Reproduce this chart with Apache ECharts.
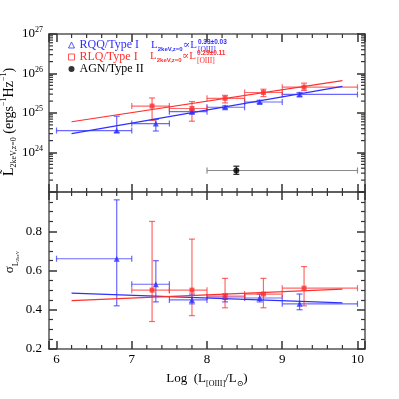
<!DOCTYPE html>
<html><head><meta charset="utf-8">
<script src="https://cdn.jsdelivr.net/npm/echarts@6/dist/echarts.min.js"></script>
<style>html,body{margin:0;padding:0;background:#fff}#c{width:399px;height:399px}</style>
</head><body><div id="c"></div>
<script>
// ---------- data ----------
// RQQ / Type I
const rqqX   = [6.8, 7.32, 7.8, 8.24, 8.7, 9.23];
const rqqXlo = [6.0, 7.0, 7.5, 8.0, 8.5, 9.0];
const rqqXhi = [7.0, 7.5, 8.0, 8.5, 9.0, 10.0];
const rqqL   = [3.6e24, 5.4e24, 1.08e25, 1.4e25, 1.9e25, 2.95e25];
const rqqLlo = [3.2e24, 3.5e24, 9.6e24, 1.28e25, 1.75e25, 2.65e25];
const rqqLhi = [8.3e24, 6.9e24, 1.2e25, 1.52e25, 2.1e25, 3.3e25];
const rqqSig   = [0.66, 0.53, 0.45, 0.465, 0.46, 0.43];
const rqqSigLo = [0.42, 0.44, 0.43, 0.44, 0.44, 0.40];
const rqqSigHi = [0.96, 0.65, 0.48, 0.48, 0.48, 0.48];
// RLQ / Type I
const rlqX   = [7.27, 7.8, 8.24, 8.75, 9.29];
const rlqXlo = [7.0, 7.5, 8.0, 8.5, 9.0];
const rlqXhi = [7.5, 8.0, 8.5, 9.0, 10.0];
const rlqL   = [1.5e25, 1.3e25, 2.35e25, 3.3e25, 4.5e25];
const rlqLlo = [6.5e24, 6.2e24, 1.8e25, 2.6e25, 3.7e25];
const rlqLhi = [2.4e25, 1.95e25, 2.8e25, 4.0e25, 5.7e25];
const rlqSig   = [0.50, 0.50, 0.47, 0.48, 0.51];
const rlqSigLo = [0.34, 0.37, 0.41, 0.41, 0.42];
const rlqSigHi = [0.85, 0.76, 0.56, 0.56, 0.62];
// AGN / Type II
const agnX = [8.39], agnXlo = [8.0], agnXhi = [10.0];
const agnL = [3.5e23], agnLlo = [2.8e23], agnLhi = [4.5e23];
// fit lines
const fitX = [6.2, 9.8];
const rqqFitL = [3.0e24, 4.7e25];
const rlqFitL = [6.0e24, 6.6e25];
const rqqFitSig = [0.485, 0.435];
const rlqFitSig = [0.447, 0.505];
// axis tick labels
const xTickLabels = ['6', '7', '8', '9', '10'];
const xMajor = [6, 7, 8, 9, 10];
const xMinorSteps = [0.2, 0.4, 0.6, 0.8];
const sigTickLabels = ['0.2', '0.4', '0.6', '0.8'];
const logTickExponents = [24, 25, 26, 27];
const logMinorFactors = [2, 3, 4, 5, 6, 7, 8, 9];
const logDecades = [23, 24, 25, 26];

// ---------- style ----------
const BLUE = '#2f2fff', RED = '#ff2f2f', BLACK = '#000';
const BLUE_E = 'rgba(47,47,255,0.72)', RED_E = 'rgba(255,47,47,0.72)', GREY_E = '#8a8a8a';
const FRAME = '#555';
const TICK = '#333';
const SERIF = '"Liberation Serif","DejaVu Serif",serif';

const logMinor = [];
logDecades.forEach(d => logMinorFactors.forEach(f => logMinor.push(f * Math.pow(10, d))));
const xMinor = [];
xMajor.slice(0, -1).forEach(m => xMinorSteps.forEach(s => xMinor.push(m + s)));

const mctx = document.createElement('canvas').getContext('2d');
function tw(font, s) { mctx.font = font; return mctx.measureText(s).width; }

function rows(x, xlo, xhi, y, ylo, yhi) { return x.map((v, i) => [v, xlo[i], xhi[i], y[i], ylo[i], yhi[i]]); }

function errBar(color, vColor) {
  return function (params, api) {
    const x = api.value(0), y = api.value(3);
    const a = api.coord([api.value(1), y]), b = api.coord([api.value(2), y]);
    const c = api.coord([x, api.value(4)]), d = api.coord([x, api.value(5)]);
    const k = 3;
    const st = { stroke: color, lineWidth: 1.2 };
    const sv = { stroke: vColor || color, lineWidth: 1.2 };
    const L = (x1, y1, x2, y2, s) => ({ type: 'line', shape: { x1, y1, x2, y2 }, style: s });
    return { type: 'group', children: [
      L(a[0], a[1], b[0], b[1], st), L(a[0], a[1] - k, a[0], a[1] + k, st), L(b[0], b[1] - k, b[0], b[1] + k, st),
      L(c[0], c[1], d[0], d[1], sv), L(c[0] - k, c[1], c[0] + k, c[1], sv), L(d[0] - k, d[1], d[0] + k, d[1], sv)
    ] };
  };
}

function xMinorSeries(xi, yi, yRef) {
  return { type: 'custom', name: 'xminor' + xi, xAxisIndex: xi, yAxisIndex: yi, silent: true, z: 3,
    data: xMinor.map(v => [v, yRef]), encode: { x: 0, y: 1 },
    renderItem: (params, api) => {
      const cs = params.coordSys; const x = api.coord([api.value(0), yRef])[0];
      const st = { stroke: TICK, lineWidth: 1.2 };
      return { type: 'group', children: [
        { type: 'line', shape: { x1: x, y1: cs.y, x2: x, y2: cs.y + 4 }, style: st },
        { type: 'line', shape: { x1: x, y1: cs.y + cs.height, x2: x, y2: cs.y + cs.height - 4 }, style: st }
      ] };
    } };
}

function mkX(grid, pos, labels) {
  return {
    type: 'value', gridIndex: grid, position: pos, min: 5.9, max: 10.1, splitNumber: 4,
    splitLine: { show: false },
    axisLine: { show: true, onZero: false, lineStyle: { color: FRAME, width: 1.5 } },
    axisTick: { show: true, inside: true, length: 8, lineStyle: { color: TICK, width: 1.5 } },
    minorTick: { show: false },
    axisLabel: labels ? {
      show: true, margin: 4, color: '#000', fontFamily: SERIF, fontSize: 13,
      formatter: v => { const r = Math.round(v); return Math.abs(v - r) < 1e-6 && xTickLabels.includes(String(r)) ? String(r) : ''; }
    } : { show: false }
  };
}

// formula layout (measured so the stacked super/subscripts follow the text)
const FX1 = 151, FX2 = 150;
const mainW = tw('11px "Liberation Serif"', 'L') + tw('bold 6px "Liberation Sans"', '2keV,z=0') + tw('11px "Liberation Serif"', '\u221dL');

function formula(x0, yc, color, expo) {
  return [
    { type: 'text', x: x0, y: yc, style: { text: '{m|L}{s|2keV,z=0}{m|\u221dL}', verticalAlign: 'middle',
      rich: { m: { fontFamily: SERIF, fontSize: 11, fill: color, lineHeight: 14, verticalAlign: 'middle' },
              s: { fontFamily: 'Liberation Sans', fontSize: 6, fontWeight: 'bold', fill: color, lineHeight: 14, verticalAlign: 'bottom' } } } },
    { type: 'text', x: x0 + mainW + 0.5, y: yc - 3, style: { text: expo, fontFamily: 'Liberation Sans', fontSize: 6.5, fontWeight: 'bold', fill: color, verticalAlign: 'middle' } },
    { type: 'text', x: x0 + mainW + 0.5, y: yc + 5, style: { text: '[OIII]', fontFamily: SERIF, fontSize: 7.5, fill: color, verticalAlign: 'middle' } }
  ];
}

const chart = echarts.init(document.getElementById('c'), null, { renderer: 'canvas' });
const option = {
  animation: false,
  backgroundColor: '#fff',
  grid: [
    { left: 49, right: 34, top: 34, height: 158 },
    { left: 49, right: 34, top: 192, height: 157 }
  ],
  xAxis: [
    mkX(0, 'bottom', false),
    mkX(0, 'top', false),
    Object.assign(mkX(1, 'bottom', true), {
      name: '{m|Log  (L}{s|[OIII]}{m|/L}{s|\u2299}{m|)}', nameLocation: 'middle', nameGap: 21,
      nameTextStyle: { rich: {
        m: { fontFamily: SERIF, fontSize: 13, color: '#000', lineHeight: 18, verticalAlign: 'middle' },
        s: { fontFamily: SERIF, fontSize: 8, color: '#000', lineHeight: 18, verticalAlign: 'bottom' }
      } }
    }),
    mkX(1, 'top', false)
  ],
  yAxis: [
    { type: 'log', logBase: 10, gridIndex: 0, position: 'left', min: 1e23, max: 1e27,
      splitLine: { show: false },
      axisLine: { show: true, lineStyle: { color: FRAME, width: 1.5 } },
      axisTick: { show: true, inside: true, length: 8, lineStyle: { color: TICK, width: 1.5 } },
      axisLabel: { show: true, margin: 6,
        formatter: v => { const e = Math.round(Math.log10(v)); return logTickExponents.includes(e) ? '{b|10}{e|' + e + '}' : ''; },
        rich: { b: { fontFamily: SERIF, fontSize: 13, color: '#000', lineHeight: 16, verticalAlign: 'middle' },
                e: { fontFamily: SERIF, fontSize: 8, color: '#000', lineHeight: 16, verticalAlign: 'top' } } } },
    { type: 'log', logBase: 10, gridIndex: 0, position: 'right', min: 1e23, max: 1e27,
      splitLine: { show: false },
      axisLine: { show: true, lineStyle: { color: FRAME, width: 1.5 } },
      axisTick: { show: true, inside: true, length: 8, lineStyle: { color: TICK, width: 1.5 } },
      axisLabel: { show: false } },
    { type: 'value', gridIndex: 1, position: 'left', min: 0.2, max: 1.0, interval: 0.2,
      splitLine: { show: false },
      axisLine: { show: true, lineStyle: { color: FRAME, width: 1.5 } },
      axisTick: { show: true, inside: true, length: 8, lineStyle: { color: TICK, width: 1.5 } },
      minorTick: { show: true, splitNumber: 4, length: 4, lineStyle: { color: TICK, width: 1.2 } },
      axisLabel: { show: true, margin: 7, color: '#000', fontFamily: SERIF, fontSize: 13,
        formatter: v => { const s = v.toFixed(1); return sigTickLabels.includes(s) ? s : ''; } } },
    { type: 'value', gridIndex: 1, position: 'right', min: 0.2, max: 1.0, interval: 0.2,
      splitLine: { show: false },
      axisLine: { show: true, lineStyle: { color: FRAME, width: 1.5 } },
      axisTick: { show: true, inside: true, length: 8, lineStyle: { color: TICK, width: 1.5 } },
      minorTick: { show: true, splitNumber: 4, length: 4, lineStyle: { color: TICK, width: 1.2 } },
      axisLabel: { show: false } }
  ],
  legend: {
    left: 63, top: 34, orient: 'vertical', itemWidth: 6, itemHeight: 6, itemGap: 0,
    selectedMode: false,
    textStyle: { fontFamily: SERIF, fontSize: 12, lineHeight: 12, padding: [0, 0, 0, 0] },
    data: [
      { name: 'RQQ/Type I', icon: 'triangle', textStyle: { color: BLUE }, itemStyle: { color: '#fff', borderColor: BLUE, borderWidth: 1 } },
      { name: 'RLQ/Type I', icon: 'rect', textStyle: { color: RED }, itemStyle: { color: '#fff', borderColor: RED, borderWidth: 1 } },
      { name: 'AGN/Type II', icon: 'circle', textStyle: { color: BLACK }, itemStyle: { color: BLACK } }
    ]
  },
  graphic: [
    ...formula(FX1, 45, BLUE, '0.33\u00b10.03'),
    ...formula(FX2, 56.5, RED, '0.29\u00b10.11'),
    // top y name
    { type: 'text', x: 9, y: 122, rotation: Math.PI / 2, style: {
      text: '{m|L\u0303}{s|2keV,z=0}{m| (ergs}{p|\u22121}{m|Hz}{p|\u22121}{m|)}', align: 'center', verticalAlign: 'middle',
      rich: { m: { fontFamily: SERIF, fontSize: 14, fill: '#000', lineHeight: 18, verticalAlign: 'middle' },
              s: { fontFamily: SERIF, fontSize: 8, fill: '#000', lineHeight: 18, verticalAlign: 'bottom' },
              p: { fontFamily: SERIF, fontSize: 8, fill: '#000', lineHeight: 18, verticalAlign: 'top' } } } },
    // bottom y name
    { type: 'text', x: 10, y: 262, rotation: Math.PI / 2, style: {
      text: '{m|\u03c3}{s|L}{ss|2keV}', align: 'center', verticalAlign: 'middle',
      rich: { m: { fontFamily: SERIF, fontSize: 13, fill: '#000', lineHeight: 18, verticalAlign: 'middle' },
              s: { fontFamily: SERIF, fontSize: 8, fill: '#000', lineHeight: 18, verticalAlign: 'bottom' },
              ss: { fontFamily: SERIF, fontSize: 5, fill: '#000', lineHeight: 20, verticalAlign: 'bottom' } } } }
  ],
  series: [
    // log minor ticks (left & right) on top panel
    { type: 'custom', name: 'minor', xAxisIndex: 0, yAxisIndex: 0, silent: true, z: 3,
      data: logMinor.map(v => [6, v]), encode: { x: 0, y: 1 },
      renderItem: (params, api) => {
        const cs = params.coordSys; const y = api.coord([6, api.value(1)])[1];
        const st = { stroke: TICK, lineWidth: 1.2 };
        return { type: 'group', children: [
          { type: 'line', shape: { x1: cs.x, y1: y, x2: cs.x + 4, y2: y }, style: st },
          { type: 'line', shape: { x1: cs.x + cs.width, y1: y, x2: cs.x + cs.width - 4, y2: y }, style: st }
        ] };
      } },
    xMinorSeries(0, 0, 1e25),
    xMinorSeries(2, 2, 0.5),
    // top panel error bars
    { type: 'custom', name: 'rqqErr', xAxisIndex: 0, yAxisIndex: 0, silent: true,
      data: rows(rqqX, rqqXlo, rqqXhi, rqqL, rqqLlo, rqqLhi), encode: { x: [0, 1, 2], y: [3, 4, 5] }, renderItem: errBar(BLUE_E) },
    { type: 'custom', name: 'rlqErr', xAxisIndex: 0, yAxisIndex: 0, silent: true,
      data: rows(rlqX, rlqXlo, rlqXhi, rlqL, rlqLlo, rlqLhi), encode: { x: [0, 1, 2], y: [3, 4, 5] }, renderItem: errBar(RED_E) },
    { type: 'custom', name: 'agnErr', xAxisIndex: 0, yAxisIndex: 0, silent: true,
      data: rows(agnX, agnXlo, agnXhi, agnL, agnLlo, agnLhi), encode: { x: [0, 1, 2], y: [3, 4, 5] }, renderItem: errBar(GREY_E, '#222') },
    // fit lines top
    { type: 'line', name: 'rqqFit', xAxisIndex: 0, yAxisIndex: 0, symbol: 'none', silent: true,
      data: fitX.map((x, i) => [x, rqqFitL[i]]), lineStyle: { color: BLUE, width: 1.2 } },
    { type: 'line', name: 'rlqFit', xAxisIndex: 0, yAxisIndex: 0, symbol: 'none', silent: true,
      data: fitX.map((x, i) => [x, rlqFitL[i]]), lineStyle: { color: RED, width: 1.2 } },
    // points top
    { type: 'scatter', name: 'RQQ/Type I', xAxisIndex: 0, yAxisIndex: 0, symbol: 'triangle', symbolSize: 6,
      itemStyle: { color: BLUE }, data: rqqX.map((x, i) => [x, rqqL[i]]), z: 5 },
    { type: 'scatter', name: 'RLQ/Type I', xAxisIndex: 0, yAxisIndex: 0, symbol: 'rect', symbolSize: 5,
      itemStyle: { color: RED }, data: rlqX.map((x, i) => [x, rlqL[i]]), z: 5 },
    { type: 'scatter', name: 'AGN/Type II', xAxisIndex: 0, yAxisIndex: 0, symbol: 'circle', symbolSize: 6,
      itemStyle: { color: BLACK }, data: agnX.map((x, i) => [x, agnL[i]]), z: 5 },
    // bottom panel
    { type: 'custom', name: 'rqqSigErr', xAxisIndex: 2, yAxisIndex: 2, silent: true,
      data: rows(rqqX, rqqXlo, rqqXhi, rqqSig, rqqSigLo, rqqSigHi), encode: { x: [0, 1, 2], y: [3, 4, 5] }, renderItem: errBar(BLUE_E) },
    { type: 'custom', name: 'rlqSigErr', xAxisIndex: 2, yAxisIndex: 2, silent: true,
      data: rows(rlqX, rlqXlo, rlqXhi, rlqSig, rlqSigLo, rlqSigHi), encode: { x: [0, 1, 2], y: [3, 4, 5] }, renderItem: errBar(RED_E) },
    { type: 'line', name: 'rqqSigFit', xAxisIndex: 2, yAxisIndex: 2, symbol: 'none', silent: true,
      data: fitX.map((x, i) => [x, rqqFitSig[i]]), lineStyle: { color: BLUE, width: 1.2 } },
    { type: 'line', name: 'rlqSigFit', xAxisIndex: 2, yAxisIndex: 2, symbol: 'none', silent: true,
      data: fitX.map((x, i) => [x, rlqFitSig[i]]), lineStyle: { color: RED, width: 1.2 } },
    { type: 'scatter', name: 'rqqSig', xAxisIndex: 2, yAxisIndex: 2, symbol: 'triangle', symbolSize: 6,
      itemStyle: { color: BLUE }, data: rqqX.map((x, i) => [x, rqqSig[i]]), z: 5 },
    { type: 'scatter', name: 'rlqSig', xAxisIndex: 2, yAxisIndex: 2, symbol: 'rect', symbolSize: 5,
      itemStyle: { color: RED }, data: rlqX.map((x, i) => [x, rlqSig[i]]), z: 5 }
  ]
};
chart.setOption(option);
</script>
</body></html>
